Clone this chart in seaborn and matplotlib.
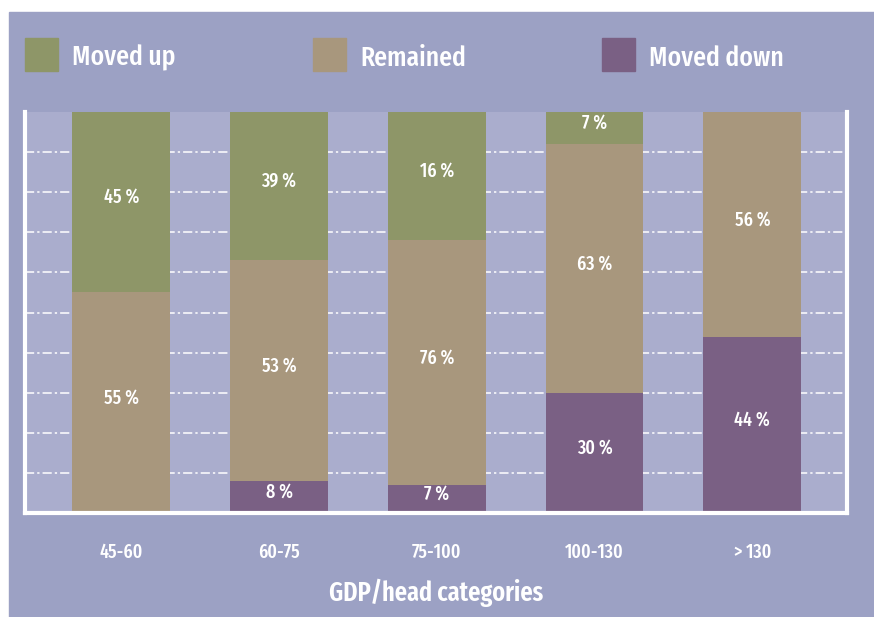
import numpy as np
import pandas as pd
import matplotlib
matplotlib.use("Agg")
import matplotlib.pyplot as plt
from matplotlib.patches import Rectangle
import seaborn as sns

# ─── Data ────────────────────────────────────────────────────────────────────
categories = ["45-60", "60-75", "75-100", "100-130", "> 130"]
# segment heights as drawn (percent of bar)
moved_down = [0, 8, 7, 30, 44]
remained = [55, 55, 61, 62, 56]
moved_up = [45, 37, 32, 8, 0]
# printed labels
down_labels = ["", "8 %", "7 %", "30 %", "44 %"]
remained_labels = ["55 %", "53 %", "76 %", "63 %", "56 %"]
up_labels = ["45 %", "39 %", "16 %", "7 %", ""]

series = ["Moved up", "Remained", "Moved down"]
colors = {"Moved up": "#8e9668", "Remained": "#a8977d", "Moved down": "#7a6084"}
BG = "#9ca1c4"
INNER = "#aaadcd"

sns.set_theme(style="white")
plt.rcParams["font.family"] = ["Fira Sans Extra Condensed", "Fira Sans Condensed",
                               "PT Sans Narrow", "DejaVu Sans"]
plt.rcParams["font.stretch"] = "condensed"
plt.rcParams["font.weight"] = "medium"

df = pd.DataFrame({"cat": categories, "down": moved_down,
                   "rem": remained, "up": moved_up})
df["rem_top"] = df["down"] + df["rem"]
df["up_top"] = df["rem_top"] + df["up"]

fig = plt.figure(figsize=(8.74, 6.17), dpi=100, facecolor="white")
fig.add_artist(Rectangle((9 / 874, 0), 1, (617 - 12) / 617,
                         transform=fig.transFigure, color=BG, zorder=0))

ax = fig.add_axes([25 / 874, (617 - 513) / 617, (847 - 25) / 874, (513 - 112) / 617])
ax.set_facecolor(INNER)

# stacked bars: draw cumulative totals from top to bottom
for col, name in [("up_top", "Moved up"), ("rem_top", "Remained"), ("down", "Moved down")]:
    sns.barplot(data=df, x="cat", y=col, color=colors[name], width=0.62,
                saturation=1, linewidth=0, ax=ax, zorder=2)

# value labels centred in each segment
for i in range(len(categories)):
    bottoms = [0, df["rem_top"][i] - df["rem"][i], df["rem_top"][i]]
    heights = [moved_down[i], remained[i], moved_up[i]]
    texts = [down_labels[i], remained_labels[i], up_labels[i]]
    for b, h, t in zip(bottoms, heights, texts):
        if t:
            ax.text(i, b + h / 2 + 1.2, t, ha="center", va="center",
                    color="white", fontsize=14, zorder=3)

ax.set_xlim(-0.61, 4.60)
ax.set_ylim(0, 100)
ax.set_yticks(np.arange(10, 100, 10))
ax.yaxis.grid(True, color="white", linestyle=(0, (6, 2, 1.5, 2)), linewidth=1.1, zorder=1)
ax.set_axisbelow(True)
ax.tick_params(axis="y", left=False, labelleft=False)
ax.tick_params(axis="x", bottom=False, pad=15, labelsize=14, labelcolor="white")

for side in ["left", "right", "bottom"]:
    ax.spines[side].set_visible(True)
    ax.spines[side].set_color("white")
    ax.spines[side].set_linewidth(3)
ax.spines["top"].set_visible(False)

ax.set_ylabel("")
ax.set_xlabel("GDP/head categories", fontsize=19, color="white",
              fontweight="semibold", labelpad=12)

# legend row across the top
legend_x = [25, 313, 602]
for name, lx in zip(series, legend_x):
    fig.add_artist(Rectangle((lx / 874, 1 - 71 / 617), 33 / 874, 33 / 617,
                             transform=fig.transFigure, color=colors[name], zorder=2))
    fig.text((lx + 47) / 874, 1 - 58 / 617, name, ha="left", va="center",
             color="white", fontsize=20)

fig.savefig("out.png", dpi=100, facecolor="white")
